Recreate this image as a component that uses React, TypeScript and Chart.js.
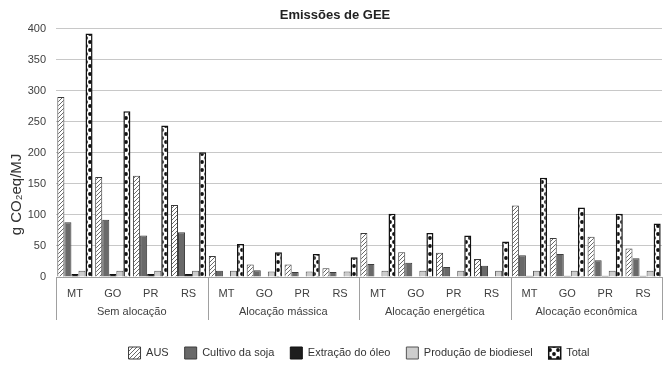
import React, { useEffect, useRef } from "react";
import { Chart, registerables } from "chart.js";

Chart.register(...registerables);

const states = ["MT", "GO", "PR", "RS", "MT", "GO", "PR", "RS", "MT", "GO", "PR", "RS", "MT", "GO", "PR", "RS"];
const groups = ["Sem alocação", "Alocação mássica", "Alocação energética", "Alocação econômica"];

const aus = [290, 161, 163, 116, 34, 20, 20, 14, 71, 40, 39, 29, 115, 63, 65, 46];
const cultivo = [88, 92, 67, 72, 10, 11, 8, 8, 21, 23, 16, 18, 35, 37, 27, 30];
const extracao = [5, 5, 5, 5, 1, 1, 1, 1, 1, 1, 1, 1, 2, 2, 2, 2];
const producao = [10, 10, 10, 10, 10, 9, 9, 9, 10, 10, 10, 10, 10, 10, 10, 10];
const total = [392, 267, 244, 201, 53, 40, 37, 32, 102, 71, 67, 57, 160, 112, 102, 86];

const yTicks = [0, 50, 100, 150, 200, 250, 300, 350, 400];

function hatchPattern(): CanvasPattern | string {
  const c = document.createElement("canvas");
  c.width = 4;
  c.height = 4;
  const ctx = c.getContext("2d");
  if (!ctx) return "#fff";
  ctx.fillStyle = "#ffffff";
  ctx.fillRect(0, 0, 4, 4);
  ctx.strokeStyle = "#6a6a6a";
  ctx.lineWidth = 1;
  ctx.beginPath();
  ctx.moveTo(-1, 5);
  ctx.lineTo(5, -1);
  ctx.moveTo(-1, 1);
  ctx.lineTo(1, -1);
  ctx.moveTo(3, 5);
  ctx.lineTo(5, 3);
  ctx.stroke();
  return ctx.createPattern(c, "repeat") || "#fff";
}

function dotPattern(): CanvasPattern | string {
  const c = document.createElement("canvas");
  c.width = 8;
  c.height = 8;
  const ctx = c.getContext("2d");
  if (!ctx) return "#fff";
  ctx.fillStyle = "#ffffff";
  ctx.fillRect(0, 0, 8, 8);
  ctx.fillStyle = "#111111";
  ctx.beginPath();
  ctx.arc(2, 2, 1.9, 0, Math.PI * 2);
  ctx.fill();
  ctx.beginPath();
  ctx.arc(6, 6, 1.9, 0, Math.PI * 2);
  ctx.fill();
  return ctx.createPattern(c, "repeat") || "#fff";
}

const separatorPlugin = {
  id: "groupSeparators",
  afterDraw(chart: any) {
    const xs = chart.scales.x;
    const area = chart.chartArea;
    if (!xs) return;
    const ctx = chart.ctx;
    ctx.save();
    ctx.strokeStyle = "#a0a0a0";
    ctx.lineWidth = 1;
    const n = states.length;
    const per = n / groups.length;
    for (let g = 0; g <= groups.length; g++) {
      let x: number;
      if (g === 0) x = area.left;
      else if (g === groups.length) x = area.right;
      else x = (xs.getPixelForValue(g * per - 1) + xs.getPixelForValue(g * per)) / 2;
      x = Math.round(x) + 0.5;
      ctx.beginPath();
      ctx.moveTo(x, area.bottom);
      ctx.lineTo(x, area.bottom + 43);
      ctx.stroke();
    }
    ctx.restore();
  },
};

export default function App() {
  const ref = useRef<HTMLCanvasElement | null>(null);

  useEffect(() => {
    if (!ref.current) return;
    Chart.defaults.font.family = "'Liberation Sans', Arial, sans-serif";
    const chart = new Chart(ref.current, {
      type: "bar",
      data: {
        labels: states,
        datasets: [
          { label: "AUS", data: aus, backgroundColor: hatchPattern() as any, borderColor: "#3a3a3a", borderWidth: 1 },
          { label: "Cultivo da soja", data: cultivo, backgroundColor: "#696969", borderColor: "#3c3c3c", borderWidth: 1 },
          { label: "Extração do óleo", data: extracao, backgroundColor: "#1e1e1e", borderColor: "#111111", borderWidth: 1 },
          { label: "Produção de biodiesel", data: producao, backgroundColor: "#cdcdcd", borderColor: "#555555", borderWidth: 1 },
          { label: "Total", data: total, backgroundColor: dotPattern() as any, borderColor: "#111111", borderWidth: 1.5 },
        ],
      },
      options: {
        animation: false,
        responsive: true,
        maintainAspectRatio: false,
        layout: { padding: { left: 0, right: 1, top: 0, bottom: 0 } },
        datasets: {
          bar: { categoryPercentage: 0.93, barPercentage: 1.0 },
        },
        plugins: {
          title: {
            display: true,
            text: "Emissões de GEE",
            color: "#222222",
            font: { size: 13, weight: "bold" },
            padding: { top: 0, bottom: 5 },
          },
          legend: {
            position: "bottom",
            fullSize: false,
            labels: {
              boxWidth: 12,
              boxHeight: 12,
              padding: 16,
              color: "#333333",
              font: { size: 11 },
            },
          },
          tooltip: { enabled: false },
        },
        scales: {
          x: {
            type: "category",
            grid: { display: false, drawTicks: false },
            border: { display: true, color: "#a0a0a0" },
            ticks: { color: "#404040", font: { size: 11 }, padding: 10, maxRotation: 0, autoSkip: false },
            afterFit: (axis: any) => {
              axis.height = 24;
            },
          },
          x2: {
            type: "category",
            labels: groups,
            position: "bottom",
            offset: true,
            grid: { display: false, drawTicks: false },
            border: { display: false },
            ticks: { color: "#404040", font: { size: 11 }, padding: 4, maxRotation: 0, autoSkip: false },
            afterFit: (axis: any) => {
              axis.height = 30;
            },
          },
          y: {
            min: 0,
            max: 400,
            afterBuildTicks: (axis: any) => {
              axis.ticks = yTicks.map((v) => ({ value: v }));
            },
            afterFit: (axis: any) => {
              axis.width = 48;
            },
            grid: { color: "#c8c8c8", drawTicks: false },
            border: { display: false },
            ticks: { color: "#404040", font: { size: 11 }, padding: 10 },
            title: {
              display: true,
              text: "g CO₂eq/MJ" + "\u00A0".repeat(20),
              color: "#333333",
              font: { size: 15 },
              padding: { top: 0, bottom: 2 },
            },
          },
        },
      },
      plugins: [separatorPlugin],
    });
    return () => chart.destroy();
  }, []);

  return (
    <div style={{ width: 655, height: 361 }}>
      <canvas ref={ref} />
    </div>
  );
}
